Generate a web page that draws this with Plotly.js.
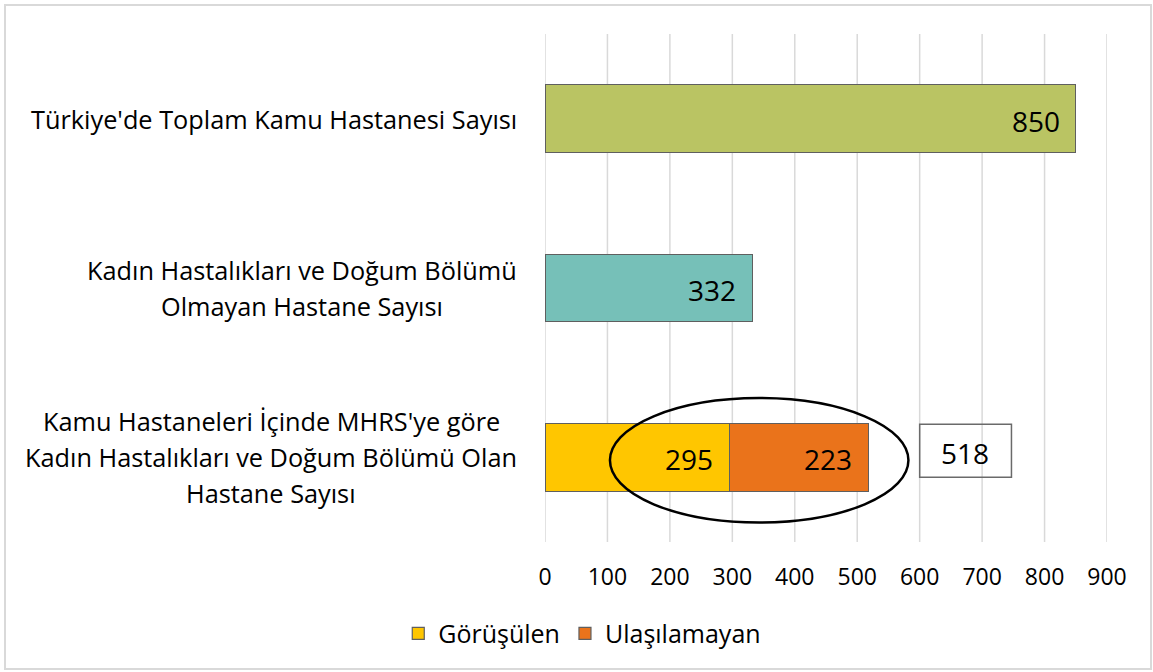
<!DOCTYPE html>
<html>
<head>
<meta charset="utf-8">
<script src="https://cdn.plot.ly/plotly-3.0.1.min.js"></script>
<style>
  html, body { margin: 0; padding: 0; background: #fff; }
  #frame { position: absolute; left: 4px; top: 4px; width: 1144px; height: 662px; border: 2px solid #D9D9D9; }
  #chart { position: absolute; left: 0; top: 0; width: 1153px; height: 672px; }
</style>
</head>
<body>
<div id="frame"></div>
<div id="chart"></div>
<script>
// ---- Data ----
const categories = [
  "Türkiye'de Toplam Kamu Hastanesi Sayısı",
  "Kadın Hastalıkları ve Doğum Bölümü<br>Olmayan Hastane Sayısı",
  "Kamu Hastaneleri İçinde MHRS'ye göre<br>Kadın Hastalıkları ve Doğum Bölümü Olan<br>Hastane Sayısı"
];
const totalCategories = [categories[0], categories[1]];
const totalValues = [850, 332];
const seriesNames = ["Görüşülen", "Ulaşılamayan"];
const gorusulen = [295];
const ulasilamayan = [223];
const xTicks = [0, 100, 200, 300, 400, 500, 600, 700, 800, 900];

// ---- Styles ----
const FONT = "'Open Sans', sans-serif";
const CAT_FS = 25.3;
const TICK_FS = 23;
const VAL_FS = 28;
const LEG_FS = 25;
const outline = { color: '#5F5F5F', width: 1.2 };
const totalColors = ['#BAC463', '#76C0B8'];

const traces = [
  {
    type: 'bar', orientation: 'h',
    y: totalCategories, x: totalValues,
    marker: { color: totalColors, line: outline },
    width: 0.4, showlegend: false, hoverinfo: 'x'
  },
  {
    type: 'bar', orientation: 'h', name: seriesNames[0],
    y: [categories[2]], x: gorusulen,
    marker: { color: '#FFC600', line: outline },
    width: 0.4
  },
  {
    type: 'bar', orientation: 'h', name: seriesNames[1],
    y: [categories[2]], x: ulasilamayan,
    marker: { color: '#EA731B', line: outline },
    width: 0.4
  }
];

const ctx = document.createElement('canvas').getContext('2d');
ctx.font = CAT_FS + "px 'Open Sans'";

const annotations = [];
// category labels: lines centred within the block, block right-aligned
const LINE = 36;
const BLOCK_RIGHT = 517;   // px from chart left
const PLOT_LEFT = 545;
categories.forEach((c) => {
  const lines = c.split('<br>');
  const n = lines.length;
  const bw = Math.max(...lines.map(l => ctx.measureText(l).width));
  const cx = BLOCK_RIGHT - bw / 2;
  lines.forEach((ln, i) => {
    annotations.push({
      xref: 'paper', yref: 'y', x: 0, y: c,
      text: ln, showarrow: false,
      xanchor: 'center', xshift: cx - PLOT_LEFT,
      yanchor: 'middle', yshift: ((n - 1) / 2 - i) * LINE,
      font: { family: FONT, size: CAT_FS, color: '#000' }
    });
  });
});
// value labels at inside end
const valueLabel = (x, y, v) => annotations.push({
  xref: 'x', yref: 'y', x: x, y: y, text: String(v), showarrow: false,
  xanchor: 'right', xshift: -14, yshift: -2,
  font: { family: FONT, size: VAL_FS, color: '#000' }
});
totalValues.forEach((v, i) => valueLabel(v, totalCategories[i], v));
valueLabel(gorusulen[0], categories[2], gorusulen[0]);
valueLabel(gorusulen[0] + ulasilamayan[0], categories[2], ulasilamayan[0]);
// sum label in box
const sum = gorusulen[0] + ulasilamayan[0];
annotations.push({
  xref: 'x', yref: 'y', x: 673, y: 1.975, text: String(sum), showarrow: false,
  xanchor: 'center', yanchor: 'middle',
  font: { family: FONT, size: VAL_FS, color: '#000' }
});

const shapes = [];
// gridlines (including the edges at 0 and 900)
xTicks.forEach(t => shapes.push({
  type: 'line', xref: 'x', yref: 'paper', x0: t, x1: t, y0: 0, y1: 1,
  line: { color: '#D9D9D9', width: 1.5 }, layer: 'below'
}));
shapes.push(
  { type: 'rect', xref: 'x', yref: 'y', x0: 600, x1: 747, y0: 1.805, y1: 2.118,
    line: { color: '#6A6A6A', width: 1.5 }, fillcolor: 'rgba(0,0,0,0)' },
  { type: 'circle', xref: 'x', yref: 'y', x0: 104, x1: 582, y0: 1.65, y1: 2.385,
    line: { color: '#000', width: 2.5 }, fillcolor: 'rgba(0,0,0,0)' }
);

const layout = {
  width: 1153, height: 672,
  margin: { l: 545, r: 46, t: 34, b: 130, pad: 0 },
  paper_bgcolor: 'rgba(0,0,0,0)', plot_bgcolor: 'rgba(0,0,0,0)',
  barmode: 'stack',
  font: { family: FONT, size: CAT_FS, color: '#000' },
  xaxis: {
    range: [0, 900], tickvals: xTicks, ticktext: xTicks.map(String),
    showgrid: false, zeroline: false, showline: false, ticks: '',
    ticklabelstandoff: 19,
    tickfont: { family: FONT, size: TICK_FS, color: '#000' }
  },
  yaxis: {
    type: 'category', categoryorder: 'array', categoryarray: categories,
    range: [2.5, -0.5], showticklabels: false, showgrid: false,
    zeroline: false, showline: false, ticks: ''
  },
  legend: {
    orientation: 'h', xref: 'container', yref: 'container',
    x: 0.505, xanchor: 'center', y: 0.057, yanchor: 'middle',
    font: { family: FONT, size: LEG_FS, color: '#000' },
    itemwidth: 30, traceorder: 'normal', entrywidthmode: 'pixels'
  },
  annotations: annotations,
  shapes: shapes,
  showlegend: true
};

Plotly.newPlot('chart', traces, layout, { displayModeBar: false, staticPlot: true }).then(() => {
  // widen the gap between legend entries a little
});
</script>
</body>
</html>
